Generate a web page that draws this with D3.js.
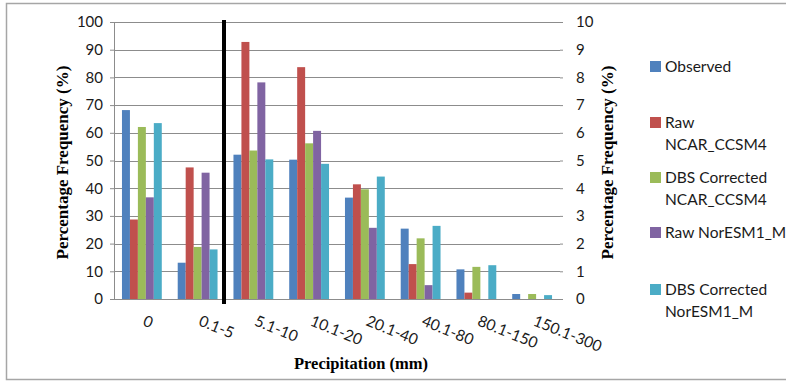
<!DOCTYPE html>
<html><head><meta charset="utf-8">
<script src="https://cdn.jsdelivr.net/npm/d3@7/dist/d3.min.js"></script>
<style>body{margin:0;background:#fff}svg{display:block}</style>
</head><body><svg id="c" width="786" height="381"></svg>
<script>
// ---- data ----
const categories = ["0","0.1-5","5.1-10","10.1-20","20.1-40","40.1-80","80.1-150","150.1-300"];
// first two categories read on left axis (0-100), the rest on right axis (0-10)
const axisSide = ["left","left","right","right","right","right","right","right"];
const observed   = [68.2, 13.1, 5.21, 5.03, 3.66, 2.54, 1.07, 0.18];
const rawNCAR    = [28.7, 47.5, 9.28, 8.37, 4.14, 1.26, 0.23, 0];
const dbsNCAR    = [62.1, 18.8, 5.36, 5.62, 3.96, 2.19, 1.16, 0.18];
const rawNor     = [36.7, 45.6, 7.82, 6.07, 2.57, 0.50, 0, 0];
const dbsNor     = [63.5, 17.9, 5.04, 4.88, 4.42, 2.64, 1.22, 0.14];
const seriesNames = ["Observed", "Raw\nNCAR_CCSM4", "DBS Corrected\nNCAR_CCSM4", "Raw NorESM1_M", "DBS Corrected\nNorESM1_M"];
const seriesValues = [observed, rawNCAR, dbsNCAR, rawNor, dbsNor];
const colors = ["#4F81BD","#C0504D","#9BBB59","#8064A2","#4BACC6"];
const leftTicks = [0,10,20,30,40,50,60,70,80,90,100];
const rightTicks = [0,1,2,3,4,5,6,7,8,9,10];

// ---- layout ----
const svg = d3.select("#c");
const L = 114, R = 560, T = 22, B = 299;
const x = d3.scaleBand().domain(categories).range([L, R]).paddingInner(0).paddingOuter(0);
const xs = d3.scaleBand().domain(d3.range(5)).range([0, x.bandwidth()]).paddingInner(0).paddingOuter(1);
const yL = d3.scaleLinear().domain([0,100]).range([B, T]);
const yR = d3.scaleLinear().domain([0,10]).range([B, T]);
const tickFont = "Lato, 'Open Sans', sans-serif";

// border
svg.append("rect").attr("x",6.5).attr("y",3.5).attr("width",800).attr("height",376)
  .attr("fill","none").attr("stroke","#a6a6a6").attr("stroke-width",1.5);

// gridlines
svg.append("g").selectAll("line").data(leftTicks.slice(1)).join("line")
  .attr("x1",L).attr("x2",R).attr("y1",d=>Math.round(yL(d))+0.5).attr("y2",d=>Math.round(yL(d))+0.5)
  .attr("stroke","#8c8c8c").attr("stroke-width",1);

// left axis
const gL = svg.append("g").attr("transform",`translate(${L},0)`)
  .call(d3.axisLeft(yL).tickValues(leftTicks).tickSize(4).tickPadding(7));
gL.select(".domain").attr("stroke","#8c8c8c");
gL.selectAll(".tick line").attr("stroke","#8c8c8c");
gL.selectAll("text").attr("font-family",tickFont).attr("font-size",15).attr("fill","#1a1a1a");

// right axis
const gR = svg.append("g").attr("transform",`translate(${R},0)`)
  .call(d3.axisRight(yR).tickValues(rightTicks).tickSize(3).tickPadding(13));
gR.select(".domain").remove();
gR.selectAll(".tick line").attr("stroke","#8c8c8c");
gR.selectAll("text").attr("font-family",tickFont).attr("font-size",15).attr("fill","#1a1a1a");

// bars
const flat = [];
categories.forEach((c,i)=>seriesValues.forEach((s,j)=>flat.push({c, i, j, v:s[i], side:axisSide[i]})));
svg.append("g").selectAll("rect").data(flat).join("rect")
  .attr("x", d=>x(d.c)+xs(d.j))
  .attr("width", xs.bandwidth())
  .attr("y", d=>(d.side==="left"?yL:yR)(d.v))
  .attr("height", d=>B-(d.side==="left"?yL:yR)(d.v))
  .attr("fill", d=>colors[d.j]);

// x baseline
svg.append("line").attr("x1",L).attr("x2",R).attr("y1",B+0.5).attr("y2",B+0.5).attr("stroke","#8c8c8c");

// separator thick line between left-axis and right-axis categories
const sepX = x(categories[2]) - 1.5;
svg.append("line").attr("x1",sepX).attr("x2",sepX).attr("y1",20).attr("y2",304)
  .attr("stroke","#000").attr("stroke-width",4);

// x tick labels
svg.append("g").selectAll("text").data(categories).join("text")
  .attr("transform", d=>`translate(${x(d)+x.bandwidth()/2},${B+26}) rotate(22)`)
  .attr("font-family",tickFont).attr("font-size",15.5).attr("fill","#1a1a1a")
  .text(d=>d);

// axis titles
const titleFont = "'Liberation Serif', 'Times New Roman', serif";
svg.append("text").attr("transform",`translate(68,${(T+B)/2+2}) rotate(-90)`)
  .attr("text-anchor","middle").attr("font-family",titleFont).attr("font-weight","bold")
  .attr("font-size",17).text("Percentage Frequency (%)");
svg.append("text").attr("transform",`translate(613,${(T+B)/2+2}) rotate(-90)`)
  .attr("text-anchor","middle").attr("font-family",titleFont).attr("font-weight","bold")
  .attr("font-size",17).text("Percentage Frequency (%)");
svg.append("text").attr("x",361).attr("y",369)
  .attr("text-anchor","middle").attr("font-family",titleFont).attr("font-weight","bold")
  .attr("font-size",16.5).text("Precipitation (mm)");

// legend
const legY = [67, 123, 178, 233, 290];
const leg = svg.append("g");
seriesNames.forEach((n,i)=>{
  leg.append("rect").attr("x",650).attr("y",legY[i]-6).attr("width",11).attr("height",11).attr("fill",colors[i]);
  const t = leg.append("text").attr("x",665).attr("y",legY[i]+5)
    .attr("font-family",tickFont).attr("font-size",15.5).attr("fill","#1a1a1a");
  n.split("\n").forEach((line,k)=>{
    t.append("tspan").attr("x",665).attr("dy",k===0?0:21.5).text(line);
  });
});
</script></body></html>
